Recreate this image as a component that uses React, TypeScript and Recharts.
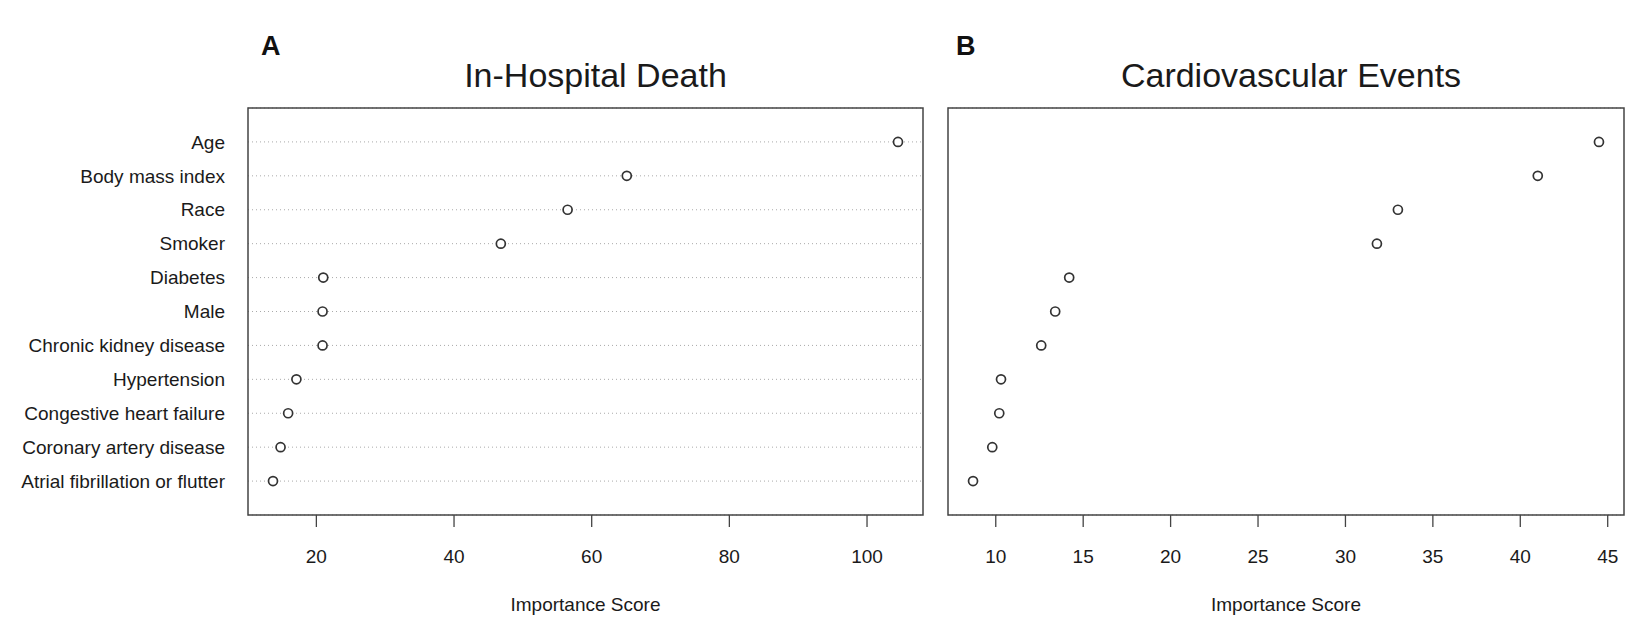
import React from "react";
import {
  ScatterChart,
  Scatter,
  XAxis,
  YAxis,
  CartesianGrid,
  ReferenceArea,
} from "recharts";

const features = [
  "Age",
  "Body mass index",
  "Race",
  "Smoker",
  "Diabetes",
  "Male",
  "Chronic kidney disease",
  "Hypertension",
  "Congestive heart failure",
  "Coronary artery disease",
  "Atrial fibrillation or flutter",
];

const deathScores = [104.5, 65.1, 56.5, 46.8, 21.0, 20.9, 20.9, 17.1, 15.9, 14.8, 13.7];
const cvScores = [44.5, 41.0, 33.0, 31.8, 14.2, 13.4, 12.6, 10.3, 10.2, 9.8, 8.7];

const deathTicks = [20, 40, 60, 80, 100];
const cvTicks = [10, 15, 20, 25, 30, 35, 40, 45];

const rowTicks = features.map((_, i) => i + 1);

const FONT = '"Liberation Sans", Arial, Helvetica, sans-serif';
const TEXT = "#1a1a1a";

// R dotchart style: x range padded by 4% each side
const padRange = (vals: number[]): [number, number] => {
  const lo = Math.min(...vals);
  const hi = Math.max(...vals);
  const d = (hi - lo) * 0.04;
  return [lo - d, hi + d];
};

const toPoints = (scores: number[]) =>
  scores.map((v, i) => ({ x: v, y: i + 1, name: features[i] }));

const Dot = (props: any) => (
  <circle cx={props.cx} cy={props.cy} r={4.5} fill="#fff" stroke="#333" strokeWidth={1.7} />
);

type PanelProps = {
  scores: number[];
  ticks: number[];
  width: number;
  yWidth: number;
  showLabels: boolean;
  right: number;
};

const Panel: React.FC<PanelProps> = ({ scores, ticks, width, yWidth, showLabels, right }) => {
  const domain = padRange(scores);
  return (
    <ScatterChart
      width={width}
      height={621}
      margin={{ top: 108, right, left: 0, bottom: 0 }}
    >
      <CartesianGrid
        vertical={false}
        stroke="#aaaaaa"
        strokeDasharray="1 3"
      />
      <XAxis
        type="number"
        dataKey="x"
        domain={domain}
        allowDataOverflow
        ticks={ticks}
        interval={0}
        height={106}
        axisLine={false}
        tickLine={{ stroke: "#444", strokeWidth: 1.3 }}
        tickSize={12}
        tickMargin={23}
        tick={{ fill: TEXT, fontSize: 19, fontFamily: FONT }}
        label={{
          value: "Importance Score",
          position: "insideBottom",
          offset: 10,
          fill: TEXT,
          fontSize: 19,
          fontFamily: FONT,
        }}
      />
      <YAxis
        type="number"
        dataKey="y"
        domain={[0, features.length + 1]}
        reversed
        ticks={rowTicks}
        interval={0}
        width={yWidth}
        axisLine={false}
        tickLine={false}
        tickSize={0}
        tickMargin={23}
        tick={showLabels ? { fill: TEXT, fontSize: 19, fontFamily: FONT } : false}
        tickFormatter={(v: number) => features[v - 1] ?? ""}
      />
      <ReferenceArea
        x1={domain[0]}
        x2={domain[1]}
        y1={0}
        y2={features.length + 1}
        fill="none"
        stroke="#444"
        strokeWidth={1.5}
      />
      <Scatter data={toPoints(scores)} shape={Dot} isAnimationActive={false} />
    </ScatterChart>
  );
};

const titleStyle: React.CSSProperties = {
  position: "absolute",
  top: 58,
  fontSize: 34,
  lineHeight: "34px",
  textAlign: "center",
  fontFamily: FONT,
  color: TEXT,
};

const letterStyle: React.CSSProperties = {
  position: "absolute",
  top: 33,
  fontSize: 27,
  lineHeight: "27px",
  fontWeight: "bold",
  fontFamily: FONT,
  color: "#111",
};

export default function App() {
  return (
    <div style={{ position: "relative", width: 1630, height: 621, background: "#fff", overflow: "hidden" }}>
      <style>{`body{margin:0}`}</style>

      <div style={{ ...letterStyle, left: 261 }}>A</div>
      <div style={{ ...letterStyle, left: 956 }}>B</div>

      <div style={{ ...titleStyle, left: 258, width: 675 }}>In-Hospital Death</div>
      <div style={{ ...titleStyle, left: 953, width: 676 }}>Cardiovascular Events</div>

      <div style={{ position: "absolute", left: 0, top: 0 }}>
        <Panel scores={deathScores} ticks={deathTicks} width={935} yWidth={248} showLabels right={12} />
      </div>
      <div style={{ position: "absolute", left: 935, top: 0 }}>
        <Panel scores={cvScores} ticks={cvTicks} width={695} yWidth={13} showLabels={false} right={6} />
      </div>
    </div>
  );
}
